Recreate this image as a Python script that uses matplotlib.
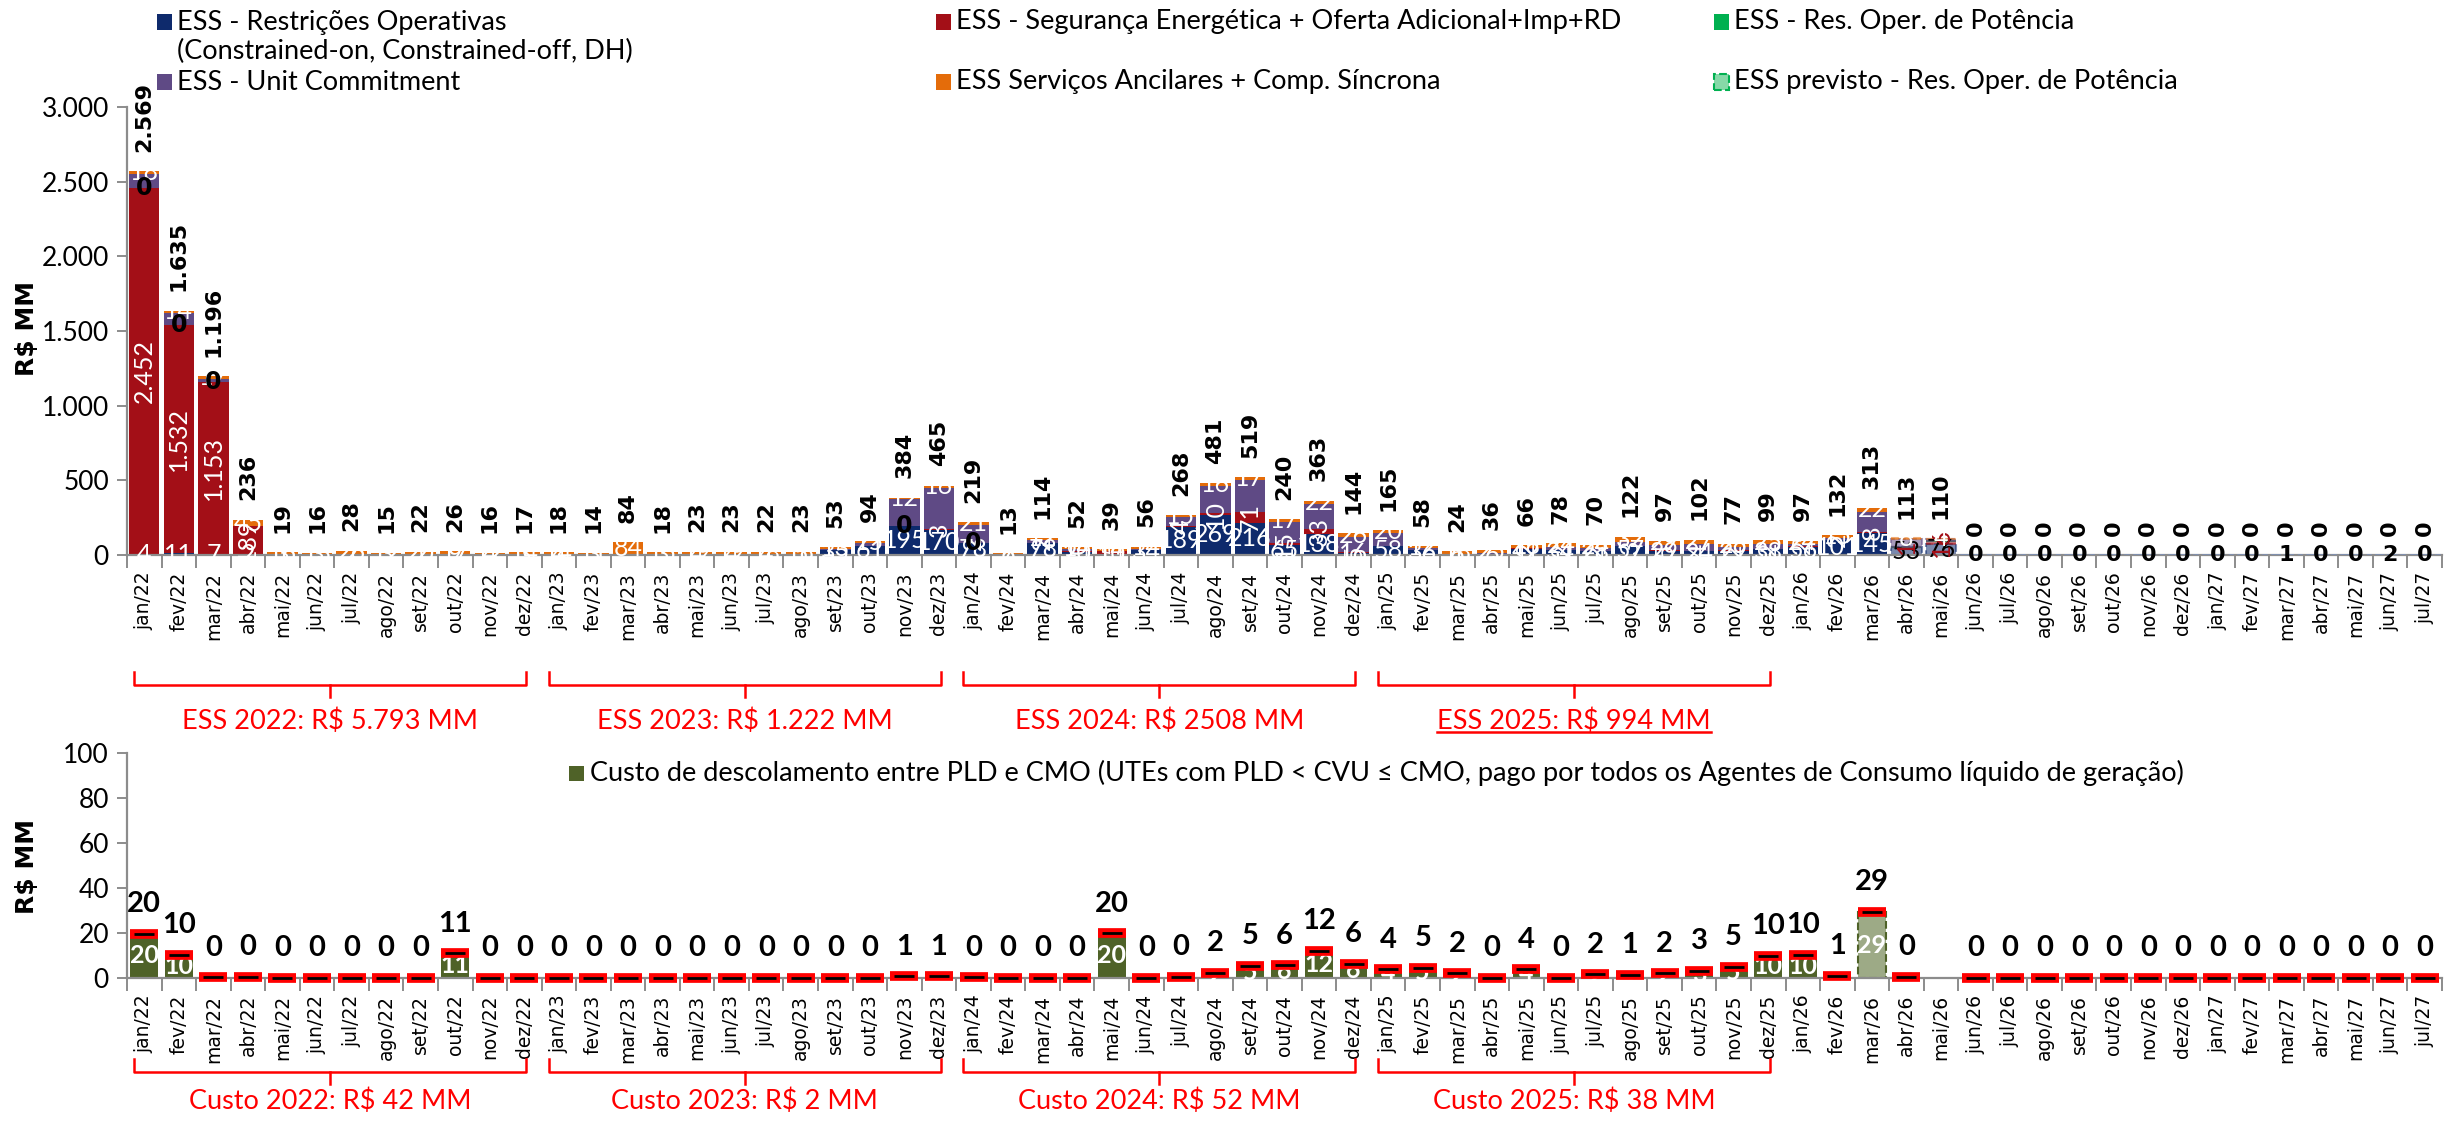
import numpy as np
import matplotlib
matplotlib.use('Agg')
import matplotlib.pyplot as plt
from matplotlib.patches import Rectangle
from matplotlib.lines import Line2D
from matplotlib.transforms import blended_transform_factory
from matplotlib.ticker import FuncFormatter, FixedLocator

NARROW = ['Lato', 'Open Sans', 'DejaVu Sans']
WIDE = ['DejaVu Sans']

# ---------------------------------------------------------------- data
months = [
    'jan/22', 'fev/22', 'mar/22', 'abr/22', 'mai/22', 'jun/22', 'jul/22', 'ago/22', 'set/22', 'out/22', 'nov/22', 'dez/22',
    'jan/23', 'fev/23', 'mar/23', 'abr/23', 'mai/23', 'jun/23', 'jul/23', 'ago/23', 'set/23', 'out/23', 'nov/23', 'dez/23',
    'jan/24', 'fev/24', 'mar/24', 'abr/24', 'mai/24', 'jun/24', 'jul/24', 'ago/24', 'set/24', 'out/24', 'nov/24', 'dez/24',
    'jan/25', 'fev/25', 'mar/25', 'abr/25', 'mai/25', 'jun/25', 'jul/25', 'ago/25', 'set/25', 'out/25', 'nov/25', 'dez/25',
    'jan/26', 'fev/26', 'mar/26', 'abr/26', 'mai/26', 'jun/26', 'jul/26', 'ago/26', 'set/26', 'out/26', 'nov/26', 'dez/26',
    'jan/27', 'fev/27', 'mar/27', 'abr/27', 'mai/27', 'jun/27', 'jul/27',
]

# ESS components (R$ MM)
ess_restricoes = [
    4, 11, 7, 2, 3, 3, 2, 3, 2, 9, 4, 3,
    4, 3, 0, 3, 4, 4, 4, 5, 35, 61, 195, 170,
    78, 6, 78, 20, 10, 34, 189, 269, 216, 65, 138, 16,
    58, 36, 6, 6, 42, 34, 28, 57, 29, 24, 29, 38,
    56, 101, 145, 53, 76, 0, 0, 0, 0, 0, 0, 0,
    0, 0, 0, 0, 0, 0, 0,
]
ess_seguranca = [
    2452, 1532, 1153, 189, 0, 0, 0, 0, 0, 0, 0, 0,
    0, 0, 0, 0, 0, 0, 0, 0, 0, 0, 0, 3,
    2, 0, 2, 10, 15, 0, 4, 10, 71, 15, 33, 5,
    0, 0, 0, 0, 2, 2, 2, 3, 5, 4, 2, 2,
    2, 2, 8, 1, 16, 0, 0, 0, 0, 0, 0, 0,
    0, 0, 0, 0, 0, 0, 0,
]
ess_res_oper = [
    0, 0, 0, 0, 0, 0, 0, 0, 0, 0, 0, 0,
    0, 0, 0, 0, 0, 0, 0, 0, 0, 0, 0, 0,
    0, 0, 0, 0, 0, 0, 0, 0, 0, 0, 0, 0,
    0, 0, 0, 0, 0, 0, 0, 0, 0, 0, 0, 0,
    0, 0, 0, 0, 0, 0, 0, 0, 0, 0, 0, 0,
    0, 0, 0, 0, 0, 0, 0,
]
ess_unit_commitment = [
    95, 78, 19, 0, 0, 0, 0, 0, 0, 0, 0, 0,
    0, 0, 0, 0, 0, 0, 0, 0, 5, 18, 177, 276,
    118, 0, 22, 8, 0, 8, 60, 186, 215, 143, 170, 97,
    87, 10, 0, 5, 4, 18, 16, 30, 34, 47, 21, 34,
    15, 14, 138, 51, 14, 0, 0, 0, 0, 0, 0, 0,
    0, 0, 0, 0, 0, 0, 0,
]
ess_ancilares = [
    18, 14, 17, 45, 16, 13, 26, 12, 20, 17, 12, 14,
    14, 11, 84, 15, 19, 19, 18, 18, 13, 15, 12, 16,
    21, 7, 12, 14, 14, 14, 15, 16, 17, 17, 22, 26,
    20, 12, 18, 25, 18, 24, 24, 32, 29, 27, 25, 25,
    24, 15, 22, 8, 4, 0, 0, 0, 0, 0, 0, 0,
    0, 0, 0, 0, 0, 0, 0,
]
# forecast reserve (only from jun/26 on)
ess_previsto = [None] * 53 + [0, 0, 0, 0, 0, 0, 0, 0, 0, 1, 0, 0, 2, 0]
ess_total = [
    2569, 1635, 1196, 236, 19, 16, 28, 15, 22, 26, 16, 17,
    18, 14, 84, 18, 23, 23, 22, 23, 53, 94, 384, 465,
    219, 13, 114, 52, 39, 56, 268, 481, 519, 240, 363, 144,
    165, 58, 24, 36, 66, 78, 70, 122, 97, 102, 77, 99,
    97, 132, 313, 113, 110, 0, 0, 0, 0, 0, 0, 0,
    0, 0, 0, 0, 0, 0, 0,
]
res_oper_label_months = ['jan/22', 'fev/22', 'mar/22', 'nov/23', 'jan/24']
ess_forecast_months = ['abr/26', 'mai/26']

# PLD x CMO decoupling cost (R$ MM)
custo_descolamento = [
    19.6, 10.4, 0.3, 0.5, 0, 0, 0, 0, 0, 10.9, 0, 0,
    0, 0, 0, 0, 0, 0, 0, 0, 0, 0, 0.8, 0.7,
    0.3, 0, 0, 0, 19.8, 0, 0.4, 2.2, 5.3, 5.6, 12.2, 6.3,
    3.8, 4.6, 2.1, 0.2, 3.9, 0.1, 1.7, 1.3, 2.1, 3.2, 5.0, 10.0,
    10.2, 0.9, 29.3, 0.4, None, 0, 0, 0, 0, 0, 0, 0,
    0, 0, 0, 0, 0, 0, 0,
]
custo_forecast_months = ['mar/26']

year_suffixes = ['/22', '/23', '/24', '/25']
ess_year_labels = ['ESS 2022: R$ 5.793 MM', 'ESS 2023: R$ 1.222 MM',
                   'ESS 2024: R$ 2508 MM', 'ESS 2025: R$ 994 MM']
custo_year_labels = ['Custo 2022: R$ 42 MM', 'Custo 2023: R$ 2 MM',
                     'Custo 2024: R$ 52 MM', 'Custo 2025: R$ 38 MM']

legend_top = [
    ('ESS - Restrições Operativas\n(Constrained-on, Constrained-off, DH)', 'navy'),
    ('ESS - Segurança Energética + Oferta Adicional+Imp+RD', 'red'),
    ('ESS - Res. Oper. de Potência', 'green'),
    ('ESS - Unit Commitment', 'purple'),
    ('ESS Serviços Ancilares + Comp. Síncrona', 'orange'),
    ('ESS previsto - Res. Oper. de Potência', 'prev'),
]
legend_bottom = ('Custo de descolamento entre PLD e CMO (UTEs com PLD < CVU ≤ CMO, '
                 'pago por todos os Agentes de Consumo líquido de geração)')

# ---------------------------------------------------------------- style
COL = {
    'navy': '#0E2A6C', 'red': '#A30F17', 'green': '#00B050',
    'purple': '#5F4A85', 'orange': '#E46C0A', 'prev': '#86D9A8',
}
OLIVE = '#4F6228'
OLIVE_LIGHT = '#9DAA86'
BRACKET_RED = '#FF0000'
AXIS_GRAY = '#8C8C8C'


def fmt(v):
    return f'{v:,.0f}'.replace(',', '.')


W, H = 2459, 1124
fig = plt.figure(figsize=(W / 100, H / 100), dpi=100)
fig.patch.set_facecolor('white')


def fx(px):
    return px / W


def fy(py):
    return 1 - py / H


L, R = 127, 2442
ax1 = fig.add_axes([fx(L), fy(555), (R - L) / W, (555 - 107) / H])
ax2 = fig.add_axes([fx(L), fy(978), (R - L) / W, (978 - 753) / H])

n = len(months)
x = np.arange(n)


def style_axis(ax, ymax, step):
    ax.set_xlim(-0.5, n - 0.5)
    ax.set_ylim(0, ymax)
    for s in ('top', 'right'):
        ax.spines[s].set_visible(False)
    for s in ('left', 'bottom'):
        ax.spines[s].set_color(AXIS_GRAY)
        ax.spines[s].set_linewidth(1.6)
    ax.set_yticks(np.arange(0, ymax + 1, step))
    ax.yaxis.set_major_formatter(FuncFormatter(lambda v, p: fmt(v)))
    ax.tick_params(axis='y', length=7, width=1.4, color=AXIS_GRAY, pad=6)
    for t in ax.get_yticklabels():
        t.set_fontfamily(NARROW)
        t.set_fontsize(19)
    ax.set_xticks(x)
    ax.set_xticklabels(months, rotation=90, fontsize=13.5, family=WIDE)
    ax.tick_params(axis='x', which='major', length=0, pad=12)
    ax.xaxis.set_minor_locator(FixedLocator(np.arange(-0.5, n, 1.0)))
    ax.tick_params(axis='x', which='minor', length=9, width=1.4, color=AXIS_GRAY)
    ax.set_facecolor('white')


style_axis(ax1, 3000, 500)
style_axis(ax2, 100, 20)

# ---------------------------------------------------------------- top chart
fc_top = np.array([m in ess_forecast_months for m in months])
stack = [
    (np.array(ess_restricoes, float), 'navy'),
    (np.array(ess_seguranca, float), 'red'),
    (np.array(ess_res_oper, float), 'green'),
    (np.array(ess_unit_commitment, float), 'purple'),
    (np.array(ess_ancilares, float), 'orange'),
]
bottom = np.zeros(n)
BW = 0.88
SEG_FS = 18
for vals, key in stack:
    solid = ~fc_top
    ax1.bar(x[solid], vals[solid], bottom=bottom[solid], width=BW,
            color=COL[key], linewidth=0, zorder=2)
    ax1.bar(x[fc_top], vals[fc_top], bottom=bottom[fc_top], width=BW,
            color=COL[key], alpha=0.55, edgecolor=COL[key], linestyle='--',
            linewidth=1.5, zorder=2)
    for i in range(n):
        v = vals[i]
        if v <= 0:
            continue
        yc = bottom[i] + v / 2
        if key == 'navy':
            ax1.text(i, yc, fmt(v), ha='center', va='center', fontsize=SEG_FS,
                     family=NARROW, color='black' if fc_top[i] else 'white', zorder=4)
        elif key == 'red':
            ax1.text(i, yc, fmt(v), ha='center', va='center', fontsize=SEG_FS,
                     family=NARROW, rotation=90,
                     color=COL['red'] if fc_top[i] else 'white', zorder=4)
        elif key == 'orange':
            ax1.text(i, yc, fmt(v), ha='center', va='center', fontsize=SEG_FS,
                     family=NARROW, color='white', zorder=4)
    if key == 'green':
        for m in res_oper_label_months:
            i = months.index(m)
            ax1.text(i, bottom[i], fmt(vals[i]), ha='center', va='center',
                     fontsize=17, family=WIDE, weight='bold', color='black', zorder=5)
    bottom = bottom + vals

# forecast reserve: flat dashed bars on the baseline
for i, v in enumerate(ess_previsto):
    if v is None:
        continue
    ax1.bar(i, v, bottom=bottom[i], width=BW, color=COL['prev'],
            edgecolor='#7F8FAE', linestyle='--', linewidth=1.8, zorder=3)
    ax1.text(i, bottom[i] + v, fmt(v), ha='center', va='center', fontsize=16,
             family=WIDE, weight='bold', color='black', zorder=5)

for i, t in enumerate(ess_total):
    ax1.annotate(fmt(t), (i, t), xytext=(0, 14), textcoords='offset points',
                 rotation=90, ha='center', va='bottom', fontsize=16,
                 family=WIDE, weight='bold', color='black', zorder=6,
                 annotation_clip=False)

# ---------------------------------------------------------------- bottom chart
cv = np.array([np.nan if v is None else v for v in custo_descolamento], float)
has = ~np.isnan(cv)
fc_bot = np.array([m in custo_forecast_months for m in months])
solid = has & ~fc_bot
ax2.bar(x[solid], cv[solid], width=0.8, color=OLIVE, linewidth=0, zorder=2)
ax2.bar(x[fc_bot], cv[fc_bot], width=0.8, color=OLIVE_LIGHT, edgecolor=OLIVE,
        linestyle='--', linewidth=1.5, zorder=2)
ax2.plot(x[has], cv[has], ls='none', marker='_', ms=20, mew=7,
         color=BRACKET_RED, zorder=4, clip_on=False)
ax2.plot(x[has], cv[has], ls='none', marker='_', ms=15, mew=2,
         color='black', zorder=5, clip_on=False)
for i in range(n):
    v = cv[i]
    if np.isnan(v):
        continue
    ax2.annotate(f'{v:.0f}', (i, v), xytext=(0, 12), textcoords='offset points',
                 ha='center', va='bottom', fontsize=21, family=NARROW,
                 weight='bold', color='black', zorder=6)
    if v >= 1:
        ax2.text(i, v / 2, f'{v:.0f}', ha='center', va='center', fontsize=18,
                 family=NARROW, weight='bold', color='white', zorder=3)

# ---------------------------------------------------------------- brackets
underline_texts = []
LABEL_FS = 19.5


def bracket(ax, i0, i1, y_px, label_y_px, label, underline=False):
    tr = blended_transform_factory(ax.transData, fig.transFigure)
    xa, xb = i0 - 0.3, i1 + 0.05
    xm = (xa + xb) / 2
    ax.add_line(Line2D([xa, xa, xb, xb], [fy(y_px - 13), fy(y_px), fy(y_px), fy(y_px - 13)],
                       color=BRACKET_RED, lw=1.8, transform=tr, clip_on=False))
    ax.add_line(Line2D([xm, xm], [fy(y_px), fy(y_px + 12)],
                       color=BRACKET_RED, lw=1.8, transform=tr, clip_on=False))
    t = ax.text(xm, fy(label_y_px), label, transform=tr, ha='center', va='center',
                fontsize=LABEL_FS, family=NARROW, color=BRACKET_RED, clip_on=False)
    if underline:
        underline_texts.append(t)


for k, suf in enumerate(year_suffixes):
    idx = [i for i, m in enumerate(months) if m.endswith(suf)]
    bracket(ax1, idx[0], idx[-1], 685, 721, ess_year_labels[k], underline=(k == 3))
    bracket(ax2, idx[0], idx[-1], 1072, 1101, custo_year_labels[k])

# ---------------------------------------------------------------- legends
col_x = [157, 936, 1714]
row_y = [22, 82]
SQ = 15
LEG_FS = 19.5
for k, (lab, key) in enumerate(legend_top):
    c, r = k % 3, k // 3
    mx, my = col_x[c], row_y[r]
    if key == 'prev':
        patch = Rectangle((fx(mx), fy(my + SQ / 2)), SQ / W, SQ / H, transform=fig.transFigure,
                          facecolor=COL['prev'], edgecolor=COL['green'], linestyle='--', lw=1.5)
    else:
        patch = Rectangle((fx(mx), fy(my + SQ / 2)), SQ / W, SQ / H, transform=fig.transFigure,
                          facecolor=COL[key], edgecolor='none')
    fig.patches.append(patch)
    ty = 37 if '\n' in lab else my
    fig.text(fx(mx + 20), fy(ty), lab, ha='left', va='center',
             fontsize=LEG_FS, family=NARROW, color='black', linespacing=1.2)

patch = Rectangle((fx(569), fy(773 + SQ / 2)), SQ / W, SQ / H, transform=fig.transFigure,
                  facecolor=OLIVE, edgecolor='none')
fig.patches.append(patch)
fig.text(fx(590), fy(773), legend_bottom, ha='left', va='center', fontsize=LEG_FS,
         family=NARROW, color='black')

fig.text(fx(27), fy(329), 'R$ MM', rotation=90, ha='center', va='center',
         fontsize=18, weight='bold', family=WIDE)
fig.text(fx(27), fy(866), 'R$ MM', rotation=90, ha='center', va='center',
         fontsize=18, weight='bold', family=WIDE)

# underline for the 2025 ESS label
fig.canvas.draw()
renderer = fig.canvas.get_renderer()
for t in underline_texts:
    bb = t.get_window_extent(renderer).transformed(fig.transFigure.inverted())
    fig.lines.append(Line2D([bb.x0, bb.x1], [bb.y0 + 0.002, bb.y0 + 0.002],
                            color=BRACKET_RED, lw=1.8, transform=fig.transFigure))

fig.savefig('out.png', dpi=100, facecolor='white')
